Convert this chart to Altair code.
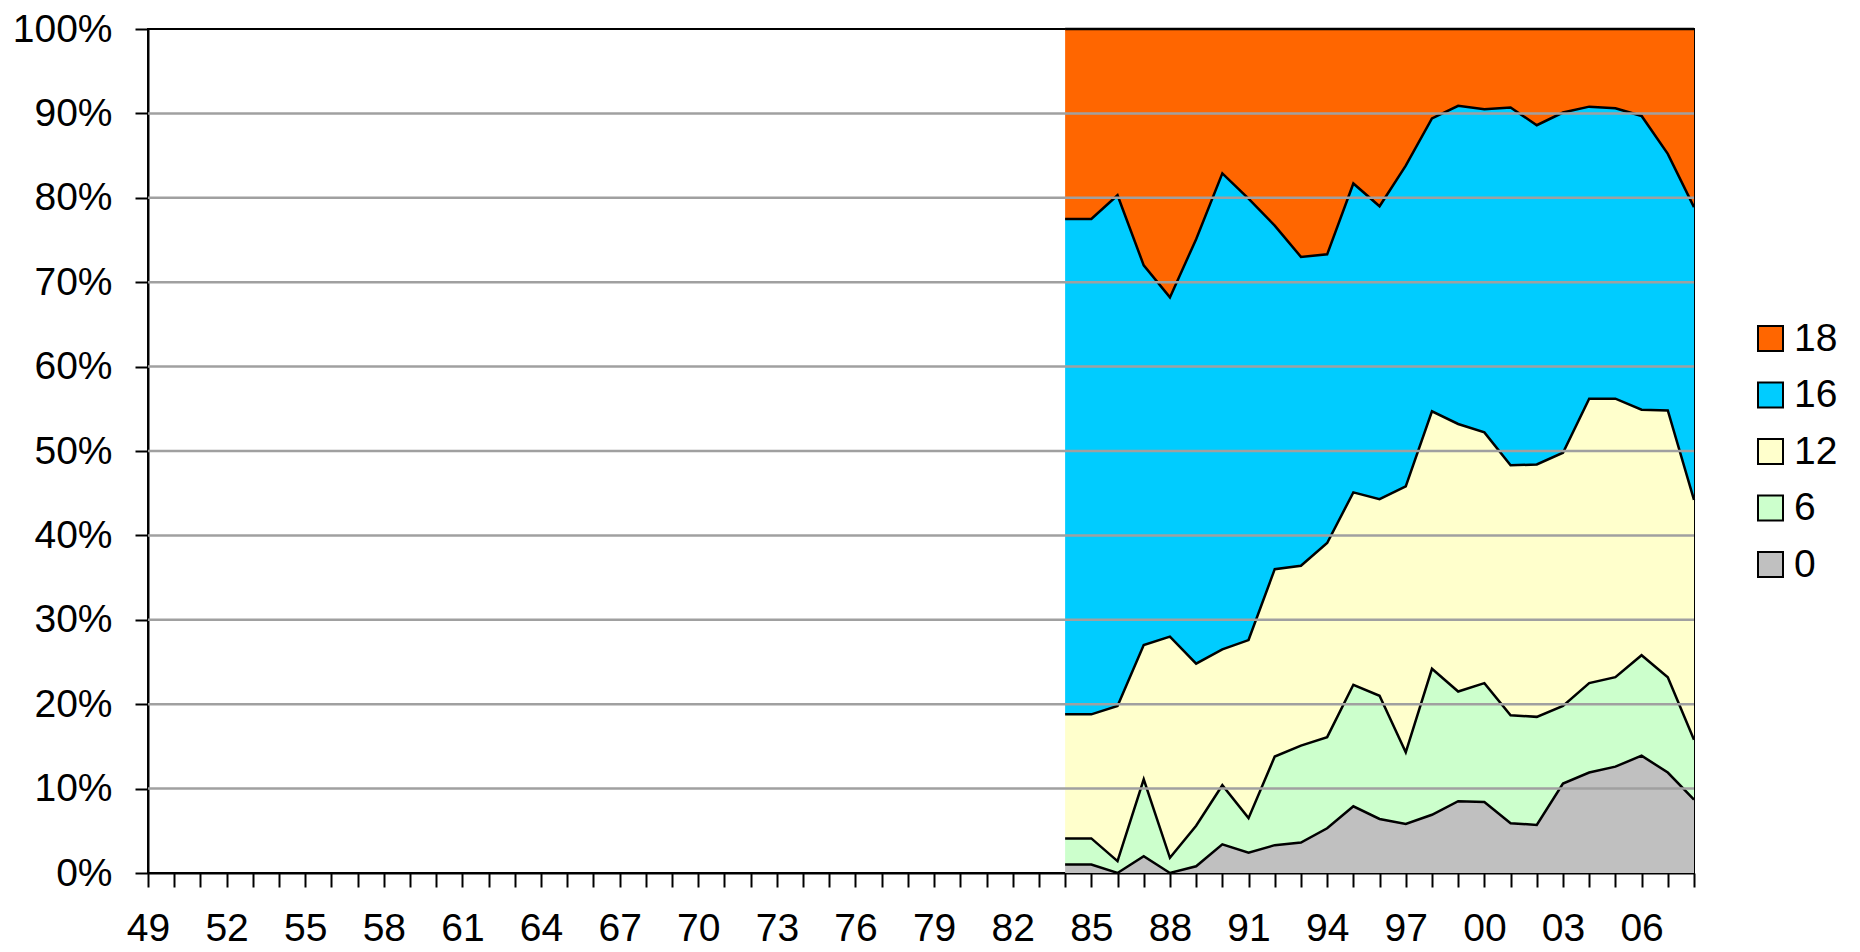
import altair as alt
import pandas as pd

years = list(range(1984, 2009))
groups = ["0", "6", "12", "16", "18"]
colors = {"18": "#FF6600", "16": "#00CCFF", "12": "#FFFFCC", "6": "#CCFFCC", "0": "#C0C0C0"}

share_0 = [1.0, 1.0, 0.0, 2.0, 0.0, 0.8, 3.4, 2.4, 3.3, 3.6, 5.3, 7.9, 6.4, 5.8, 6.9, 8.5, 8.4, 5.9, 5.7, 10.6, 11.9, 12.6, 13.9, 11.9, 8.7]
share_6 = [3.1, 3.1, 1.4, 9.1, 1.8, 4.8, 7.0, 4.1, 10.5, 11.5, 10.8, 14.4, 14.6, 8.5, 17.3, 13.0, 14.1, 12.8, 12.8, 9.2, 10.6, 10.6, 11.9, 11.3, 7.1]
share_12 = [14.7, 14.7, 18.4, 15.9, 26.2, 19.2, 16.1, 21.1, 22.2, 21.3, 23.0, 22.8, 23.3, 31.5, 30.5, 31.7, 29.7, 29.6, 29.9, 30.0, 33.7, 33.0, 29.1, 31.6, 28.4]
share_16 = [58.7, 58.7, 60.5, 45.0, 40.2, 50.3, 56.4, 52.3, 40.7, 36.6, 34.2, 36.6, 34.7, 38.0, 34.7, 37.7, 38.3, 42.4, 40.2, 40.3, 34.6, 34.4, 34.8, 30.4, 34.7]
share_18 = [22.5, 22.5, 19.7, 28.0, 31.8, 24.9, 17.1, 20.1, 23.3, 27.0, 26.7, 18.3, 21.0, 16.2, 10.6, 9.1, 9.5, 9.3, 11.4, 9.9, 9.2, 9.4, 10.3, 14.8, 21.1]

axis_years = list(range(1949, 2009))
y_ticks = [i / 10 for i in range(11)]
grid_vals = [i / 10 for i in range(1, 10)]

series = {"0": share_0, "6": share_6, "12": share_12, "16": share_16, "18": share_18}
rows = []
for rank, g in enumerate(groups):
    for yr, v in zip(years, series[g]):
        rows.append({"year": yr, "group": g, "rank": rank, "share": v})
df = pd.DataFrame(rows)

FONT = "Liberation Sans"
W, H = 1546, 844

xscale = alt.Scale(domain=[1949, 2008], nice=False, zero=False)
yscale = alt.Scale(domain=[0, 1], nice=False)

x_axis = alt.Axis(
    values=axis_years, title=None, grid=False, labelOverlap=False, labelFlush=False,
    labelExpr="datum.value % 3 == 2 ? format(datum.value % 100, '02d') : ''",
    labelFont=FONT, labelFontSize=39, labelColor="black", labelPadding=22,
    tickSize=14, tickWidth=2, tickColor="black",
    domainColor="black", domainWidth=2)
y_axis = alt.Axis(
    values=y_ticks, format=".0%", title=None, grid=False, labelFlush=False,
    labelFont=FONT, labelFontSize=39, labelColor="black", labelPadding=23,
    tickSize=13, tickWidth=2, tickColor="black",
    domainColor="black", domainWidth=2)

base = alt.Chart(df).transform_stack(
    stack="share", as_=["y0", "y1"], groupby=["year"],
    sort=[alt.SortField("rank", order="ascending")], offset="normalize"
)

area = base.mark_area(interpolate="linear").encode(
    x=alt.X("year:Q", scale=xscale, axis=x_axis),
    y=alt.Y("y1:Q", scale=yscale, axis=y_axis),
    y2="y0:Q",
    color=alt.Color("group:N", scale=alt.Scale(domain=["18", "16", "12", "6", "0"],
                                                range=[colors[k] for k in ["18", "16", "12", "6", "0"]]),
                    legend=alt.Legend(title=None, orient="none", legendX=1603, legendY=290,
                                      symbolType="square", symbolSize=625,
                                      symbolStrokeColor="black", symbolStrokeWidth=2,
                                      symbolOpacity=1,
                                      labelFont=FONT, labelFontSize=39, labelColor="black",
                                      labelOffset=4, rowPadding=16.5, padding=0)),
    order=alt.Order("rank:Q"),
)

lines = base.mark_line(color="black", strokeWidth=2.5).encode(
    x=alt.X("year:Q", scale=xscale, axis=x_axis),
    y=alt.Y("y1:Q", scale=yscale, axis=y_axis),
    detail="group:N",
)

grid = alt.Chart(pd.DataFrame({"g": grid_vals})).mark_rule(color="#A0A0A0", strokeWidth=2.5).encode(
    y=alt.Y("g:Q", scale=yscale, axis=y_axis)
)

chart = alt.layer(area, lines, grid).properties(
    width=W, height=H, autosize="none",
    padding={"left": 140, "top": 21, "right": 156, "bottom": 75},
).configure(
    background="white",
    view=alt.ViewConfig(stroke="black", strokeWidth=2),
)

chart.save("out.html", embed_options={"renderer": "svg", "actions": False})
